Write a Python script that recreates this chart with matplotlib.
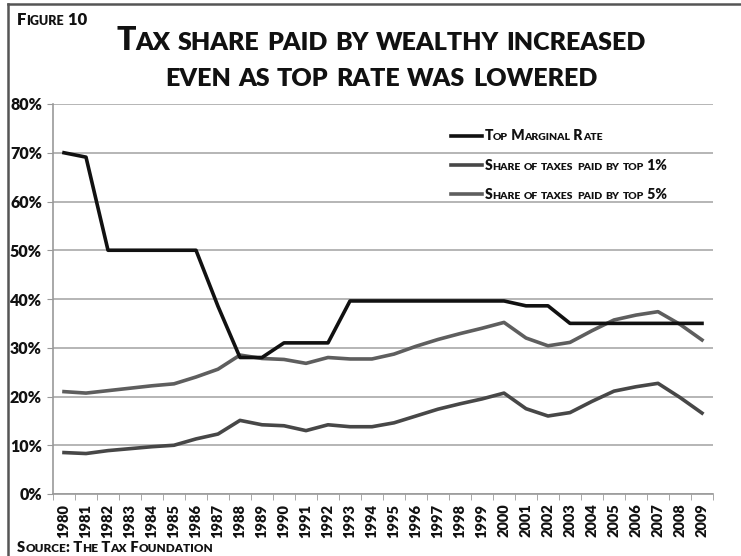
import matplotlib
matplotlib.use("Agg")
import matplotlib.pyplot as plt
import numpy as np
from matplotlib.lines import Line2D
from matplotlib.offsetbox import (AnnotationBbox, DrawingArea, HPacker,
                                  TextArea, VPacker)

years = list(range(1980, 2010))

top_rate = [70.0, 69.1, 50.0, 50.0, 50.0, 50.0, 50.0, 38.5, 28.0, 28.0,
            31.0, 31.0, 31.0, 39.6, 39.6, 39.6, 39.6, 39.6, 39.6, 39.6,
            39.6, 38.6, 38.6, 35.0, 35.0, 35.0, 35.0, 35.0, 35.0, 35.0]

top1 = [8.5, 8.3, 8.9, 9.3, 9.7, 10.0, 11.3, 12.3, 15.1, 14.2,
        14.0, 13.0, 14.2, 13.8, 13.8, 14.6, 16.0, 17.4, 18.5, 19.5,
        20.7, 17.5, 16.0, 16.7, 19.0, 21.1, 22.0, 22.7, 19.8, 16.6]

top5 = [21.0, 20.7, 21.2, 21.7, 22.2, 22.6, 24.0, 25.6, 28.5, 27.8,
        27.6, 26.8, 28.0, 27.7, 27.7, 28.7, 30.3, 31.7, 32.9, 34.0,
        35.2, 32.0, 30.4, 31.1, 33.5, 35.7, 36.7, 37.4, 34.8, 31.6]

series_names = ["Top Marginal Rate", "Share of taxes paid by top 1%",
                "Share of taxes paid by top 5%"]
series_colors = ["#111111", "#474747", "#5e5e5e"]

FONT = "Lato"
WEIGHT = "heavy"


def small_caps(text, big, small, color="#111111"):
    """Build a small-caps text box out of runs of big and small capitals."""
    runs = []
    for ch in text:
        is_small = ch.islower()
        if runs and runs[-1][1] == is_small:
            runs[-1][0] += ch
        else:
            runs.append([ch, is_small])
    boxes = []
    for s, is_small in runs:
        boxes.append(TextArea(s.upper(), textprops=dict(
            fontsize=small if is_small else big, fontweight=WEIGHT,
            family=FONT, color=color)))
    return HPacker(children=boxes, sep=0, pad=0, align="baseline")


def place(fig, box, x, y, align=(0.5, 0.5)):
    ab = AnnotationBbox(box, (x, y), xycoords="figure pixels",
                        box_alignment=align, frameon=False, pad=0)
    fig.add_artist(ab)


fig = plt.figure(figsize=(7.41, 5.56), dpi=100)
ax = fig.add_axes([53 / 741, 62 / 556, 660 / 741, 390 / 556])

x = np.arange(len(years))
ax.plot(x, np.array(top_rate) / 100, color=series_colors[0], lw=2.6,
        zorder=4)
ax.plot(x, np.array(top1) / 100, color=series_colors[1], lw=2.6, zorder=3)
ax.plot(x, np.array(top5) / 100, color=series_colors[2], lw=2.6, zorder=3)

ax.set_xlim(-0.5, len(years) - 0.5)
ax.set_ylim(0, 0.8)
ax.set_yticks(np.arange(0, 0.81, 0.1))
ax.set_yticklabels([f"{int(round(v * 100))}%" for v in np.arange(0, 0.81, 0.1)],
                   fontsize=11.5, fontweight=WEIGHT, family=FONT,
                   color="#111111")
ax.set_xticks(x)
ax.set_xticklabels([str(y) for y in years], rotation=90, fontsize=10.5,
                   fontweight=WEIGHT, family=FONT, color="#111111")
ax.set_xticks(np.arange(-0.5, len(years)), minor=True)
ax.tick_params(axis="x", which="major", length=0, pad=7)
ax.tick_params(axis="x", which="minor", length=4, color="#999999",
               direction="out")
ax.tick_params(axis="y", length=4, color="#999999", pad=4)
ax.grid(axis="y", color="#b5b5b5", lw=1.4)
ax.set_axisbelow(True)
for side in ("top", "right"):
    ax.spines[side].set_visible(False)
for side in ("left", "bottom"):
    ax.spines[side].set_color("#999999")
    ax.spines[side].set_linewidth(1.2)

# legend drawn by hand so that the labels can be small caps
rows = []
for name, col in zip(series_names, series_colors):
    da = DrawingArea(22, 10, 0, 0)
    da.add_artist(Line2D([0, 22], [5, 5], color=col, lw=2.6))
    rows.append(HPacker(children=[da, small_caps(name, 10, 7.5)], sep=2,
                        pad=0, align="center"))
legend = VPacker(children=rows, sep=11, pad=0, align="left")
place(fig, legend, 451, 556 - 129, align=(0, 1))

# titles and notes
place(fig, small_caps("Figure 10", 12, 9), 17, 556 - 20, align=(0, 0.5))
place(fig, small_caps("Tax share paid by wealthy increased", 23, 18),
      381, 556 - 40)
place(fig, small_caps("even as top rate was lowered", 23, 18), 381, 556 - 77)
place(fig, small_caps("Source: The Tax Foundation", 10.5, 8.5), 17, 556 - 547,
      align=(0, 0.5))

# frame around the figure
fig.add_artist(Line2D([8 / 741, 1], [1 - 4 / 556, 1 - 4 / 556],
                      color="#555555", lw=1.8, transform=fig.transFigure))
fig.add_artist(Line2D([8 / 741, 8 / 741], [0, 1 - 4 / 556],
                      color="#555555", lw=1.8, transform=fig.transFigure))

fig.savefig("out.png", dpi=100)
